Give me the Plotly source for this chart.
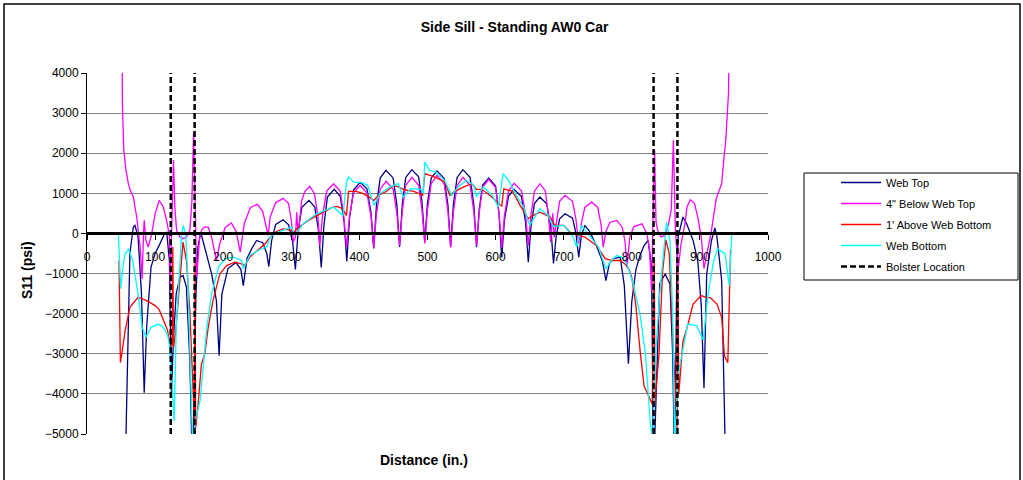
import plotly.graph_objects as go

# ---------------- data ----------------
bolster_x = [123, 158, 832, 867]

web_top_x = [56, 60, 63, 68, 70.5, 75, 80, 84, 87.6, 94, 100, 107, 114, 117, 121, 124, 127, 131, 136.5, 141,
             146, 151, 155, 160, 163, 167, 173, 183, 190, 194, 198, 207, 219, 226, 229.5, 235, 242, 249, 258, 264,
             267, 271, 277, 288, 296, 302, 306, 310, 315.5, 326, 334.5, 340, 344, 348, 353, 363, 372, 377.5, 381.5, 385.5,
             391.5, 401, 411, 417, 421, 425, 430.5, 439, 449.5, 455, 459, 463, 468, 477, 487, 492, 496, 500, 505.5, 514,
             524.5, 530, 534, 538, 543.5, 552, 562.5, 568, 572, 576, 581, 590, 600, 605, 609, 613, 619, 627,
             638, 644, 648, 652, 657, 665, 675, 681, 685, 689, 694, 702, 713, 718, 722, 726, 731, 738,
             748, 757, 762, 767, 773, 783, 789, 795, 800, 806, 812, 818, 824, 829, 832, 838, 841, 849, 856, 860,
             863, 866, 868, 875, 880.6, 890, 897, 902, 906, 910, 917, 922, 925, 932, 938]
web_top_y = [-6000, -2500, -500, 160, 200, -90, -1500, -3970, -2340, -840, -500, -260, 0, 30, -675, -4000, -2600, -1500, -1090, -1050,
             -1340, -3175, -6000, -1500, -340, 30, -340, -1010, -1675, -3050, -1510, -875, -725, -900, -1300, -625, -375, -175, -230, -500,
             -825, -184, 224, 340, 216, -218, -900, 49, 653, 825, 658, 71, -850, 223, 905, 1100, 920, 290, -700, 389,
             1082, 1280, 1115, 535, -375, 698, 1380, 1575, 1384, 713, -340, 722, 1397, 1590, 1410, 778, -215, 761, 1383, 1560,
             1370, 705, -340, 722, 1397, 1590, 1397, 722, -340, 606, 1208, 1380, 1182, 489, -600, 335, 930, 1100,
             919, 283, -715, 177, 745, 907, 741, 161, -750, -68, 366, 490, 382, 4, -590, -50, 200, 50,
             -300, -700, -1175, -750, -630, -590, -1300, -3250, -1700, -900, -550, -300, -175, -840, -6000, -2500, -1260, -1010, -1260, -3000,
             -6000, -1000, -90, 410, 240, -175, -700, -1800, -3850, -1010, -175, 140, -90, -1175, -6000]

below_top_x = [50, 52, 54, 57, 60.7, 64, 68, 73, 78, 81, 83, 84, 86.6, 90, 95, 100, 106, 112, 118, 121,
               122, 125, 127, 129, 131.6, 136.5, 141, 146, 151, 154, 156.5, 158.5, 161, 165, 168, 172, 178, 183, 190, 195,
               203, 212, 219, 225, 231, 240, 250, 258, 263, 266, 269, 277, 288, 296, 300, 303, 306, 308, 310, 315,
               320, 327, 334, 339, 342, 346, 352, 362, 372, 377, 381, 385.5, 391.5, 401, 411, 417, 421, 425, 430.5, 439,
               449.5, 455, 459, 463, 468, 477, 487, 492, 496, 500, 505.5, 514, 524.5, 530, 534, 538, 543.5, 552, 562.5, 568,
               572, 576, 581, 590, 600, 605, 609, 613, 619, 627, 638, 644, 648, 652, 657, 665, 673, 677, 681, 684,
               686, 690, 694, 702, 713, 718, 722, 726, 731, 741, 750, 755, 758, 762, 768, 778, 786, 790, 793, 797,
               803, 815, 822, 826, 829, 831, 833.5, 835.5, 838, 843, 849, 854, 858, 861, 863, 864, 868, 872, 878, 881,
               886, 892, 897, 902, 906, 910, 917, 924, 929.5, 932, 935, 938, 942, 944, 946]
below_top_y = [9000, 3200, 2100, 1600, 1240, 1050, 910, 410, -340, -1130, 0, 325, -175, -340, -10, 490, 825, 660, 240, -90,
               -1420, 200, 1830, 660, 75, -90, -130, -90, 75, 800, 2530, 990, -1090, -175, 75, 160, 160, -100, -675, -250,
               150, 260, 50, -465, 250, 650, 725, 550, 200, -50, 413, 764, 875, 744, 330, -215, -100, 530, -50, 800,
               1050, 1175, 998, 438, -300, 470, 1055, 1240, 1050, 450, -340, 430, 1015, 1200, 1014, 425, -350, 475, 1102, 1300,
               1108, 500, -300, 550, 1196, 1400, 1202, 575, -250, 600, 1246, 1450, 1234, 550, -350, 525, 1190, 1400, 1196, 550,
               -300, 525, 1152, 1350, 1146, 500, -350, 450, 1058, 1250, 1064, 475, -300, 470, 1055, 1240, 1065, 513, -215, 500,
               -100, 350, 800, 950, 800, 350, -250, 250, 650, 780, 650, 200, -340, 50, 280, 325, 150, -200, -840, -100,
               170, 240, 0, -400, -1425, 300, 2075, 300, 75, -90, -50, 240, 600, 2325, 300, 100, -925, -300, 240, 660,
               840, 750, 400, -90, -875, -510, 75, 870, 1160, 1240, 1825, 2325, 3500, 4500, 9000]

above_bottom_x = [47, 49, 52, 56, 63, 75, 87.6, 100, 106, 112, 118, 121, 125, 126, 127, 130, 134, 137, 139, 141,
                  146, 151, 155, 158, 158.6, 159.5, 163, 168, 173, 178, 185, 195, 205, 217, 227, 232, 239, 254, 262, 269,
                  278, 288, 300, 303, 308, 325, 345, 360, 367, 375, 381, 384, 395, 405, 415, 421, 428, 440, 450, 459,
                  465, 480, 493, 496, 510, 525, 533, 540, 555, 565, 572, 580, 595, 609, 612, 625, 636, 648, 652, 665,
                  680, 687, 700, 711, 722, 731, 748, 761, 771, 783, 790, 796, 800, 806, 812, 818, 826, 830, 833, 834,
                  840, 845, 850, 855, 860, 864, 866.5, 867.5, 869, 875, 882, 890, 902, 908, 915, 925, 932, 936, 941, 945]
above_bottom_y = [-675, -3220, -2900, -2425, -1840, -1590, -1675, -1800, -1900, -2175, -2400, -2675, -2800, -340, -2840, -2500, -1675, -900, -425, -215,
                  -675, -1925, -3590, -4850, -675, -4850, -4300, -3260, -3000, -2340, -1675, -1010, -800, -715, -760, -800, -590, -380, -250, -90,
                  50, 115, 80, 0, 120, 325, 500, 650, 675, 620, 450, 1050, 1050, 1000, 900, 820, 950, 1050, 1200, 1150,
                  1090, 1050, 950, 1490, 1410, 1290, 950, 1050, 1175, 1240, 1100, 1100, 900, 675, 1110, 1050, 700, 365, 420, 530,
                  410, 200, 200, 0, -50, -90, -300, -630, -675, -675, -760, -900, -1100, -1800, -2900, -3800, -4100, -4250, -675, -4200,
                  -3000, -1000, -160, -500, -2500, -4200, -4850, -800, -4000, -2700, -2300, -1760, -1550, -1590, -1600, -1760, -2090, -3050, -3225, -400]

web_bottom_x = [46, 49.5, 53, 56, 61, 67, 75, 81, 86.6, 94, 105, 112, 118, 121, 125, 128, 131, 136.6, 139, 141.5,
                145, 148, 152, 155, 160, 166, 176, 183, 193, 203, 215, 227, 229.5, 239, 254, 264, 269, 276, 288, 300.6,
                305, 317.6, 337, 362, 372, 376, 381, 384, 392, 405, 412, 418, 421.5, 430, 445, 457, 464.5, 475, 490, 494,
                496, 503, 512, 525, 535.5, 545, 557, 568, 572, 582, 595, 604, 611, 620, 630, 641, 645.6, 650, 665, 677,
                685, 700, 714, 719, 726, 738, 751, 762, 770, 778, 785, 793, 802, 812, 820, 827, 831, 835, 841, 847,
                851, 856, 860, 863, 868, 875, 882, 895, 905, 912, 920, 926, 932, 937, 943, 947]
web_bottom_y = [0, -1380, -800, -510, -385, -675, -1510, -2340, -2590, -2340, -2260, -2340, -2510, -2760, -3800, -4680, -2340, -675, 0, 200,
                -50, -1090, -3175, -5200, -4600, -4175, -2340, -1510, -840, -630, -590, -675, -880, -550, -400, -340, -90, 0, 75, 160,
                -50, 240, 490, 660, 500, 450, 1280, 1410, 1280, 1260, 1200, 910, 700, 990, 1160, 1240, 910, 1115, 1100, 1000,
                1780, 1575, 1530, 1325, 950, 1160, 1325, 1200, 910, 1160, 950, 660, 1490, 1300, 950, 660, 450, 200, 615, 450,
                175, 200, -90, -340, 200, -50, -340, -880, -675, -550, -590, -760, -1260, -2010, -3000, -4675, -5200, -3000, -1500, -400,
                285, -175, -2000, -5200, -3500, -2900, -2260, -2300, -2650, -1510, -700, -385, -450, -510, -1300, 0]

series_names = ["Web Top", "4\" Below Web Top", "1' Above Web Bottom", "Web Bottom"]
series_colors = ["#000080", "#FF00FF", "#FF0000", "#00FFFF"]
x_ticks = list(range(0, 1001, 100))
y_ticks = list(range(-5000, 4001, 1000))
y_min, y_max = -5000, 4000

# ---------------- figure ----------------
FONT = "Arial, 'Liberation Sans', sans-serif"
fig = go.Figure()

series = [(web_top_x, web_top_y), (below_top_x, below_top_y),
          (above_bottom_x, above_bottom_y), (web_bottom_x, web_bottom_y)]
for i, ((xs, ys), name, col) in enumerate(zip(series, series_names, series_colors)):
    fig.add_trace(go.Scatter(x=xs, y=ys, mode="lines", name=name,
                             line=dict(color=col, width=1.3),
                             legendgroup=str(i)))

bx, by = [], []
for b in bolster_x:
    bx += [b, b, None]
    by += [y_min, y_max, None]
fig.add_trace(go.Scatter(x=bx, y=by, mode="lines", name="Bolster Location",
                         line=dict(color="black", width=2.5, dash="6px,3px"),
                         legendgroup="4"))

L, R, T, B = 87, 1023 - 768, 73, 480 - 434
W, H = 1023, 480
pw, ph = W - L - R, H - T - B

def px_x(p):
    return (p - L) / pw

def px_y(p):
    return (H - B - p) / ph

fig.update_layout(
    width=W, height=H,
    margin=dict(l=L, r=R, t=T, b=B, pad=0),
    paper_bgcolor="white", plot_bgcolor="white",
    font=dict(family=FONT, size=12, color="black"),
    title=dict(text="<b>Side Sill - Standing AW0 Car</b>", x=0.503, xanchor="center",
               y=1 - 27 / H, yanchor="middle", yref="container",
               font=dict(size=14, color="black")),
    showlegend=True,
    legend=dict(x=px_x(836), y=px_y(168), xanchor="left", yanchor="top",
                bgcolor="rgba(0,0,0,0)", borderwidth=0,
                font=dict(size=11, color="black"),
                tracegroupgap=2, itemwidth=40),
    xaxis=dict(range=[0, 1000], tickvals=x_ticks, ticks="outside", ticklen=5,
               tickcolor="black", showgrid=False, zeroline=False,
               showline=True, linecolor="black", linewidth=2.5,
               anchor="free", position=(0 - y_min) / (y_max - y_min),
               ticklabelstandoff=6, tickfont=dict(size=12, color="black")),
    yaxis=dict(range=[y_min, y_max], tickvals=y_ticks, ticks="outside", ticklen=5,
               tickcolor="black", showgrid=True, gridcolor="#808080", gridwidth=1,
               zeroline=False, showline=True, linecolor="black", linewidth=1,
               tickfont=dict(size=12, color="black")),
    annotations=[
        dict(text="<b>Distance (in.)</b>", x=px_x(424), y=px_y(460), xref="paper", yref="paper",
             showarrow=False, font=dict(size=14, color="black"), xanchor="center", yanchor="middle"),
        dict(text="<b>S11 (psi)</b>", x=px_x(27), y=px_y(270), xref="paper", yref="paper",
             showarrow=False, textangle=-90, font=dict(size=14, color="black"),
             xanchor="center", yanchor="middle"),
    ],
    shapes=[
        dict(type="rect", xref="paper", yref="paper",
             x0=px_x(4), x1=px_x(1020), y0=px_y(490), y1=px_y(4),
             line=dict(color="black", width=1.5), fillcolor="rgba(0,0,0,0)", layer="below"),
        dict(type="rect", xref="paper", yref="paper",
             x0=px_x(804), x1=px_x(1018), y0=px_y(280), y1=px_y(173),
             line=dict(color="black", width=1), fillcolor="rgba(0,0,0,0)", layer="below"),
    ],
)

fig.write_html("out.html")
